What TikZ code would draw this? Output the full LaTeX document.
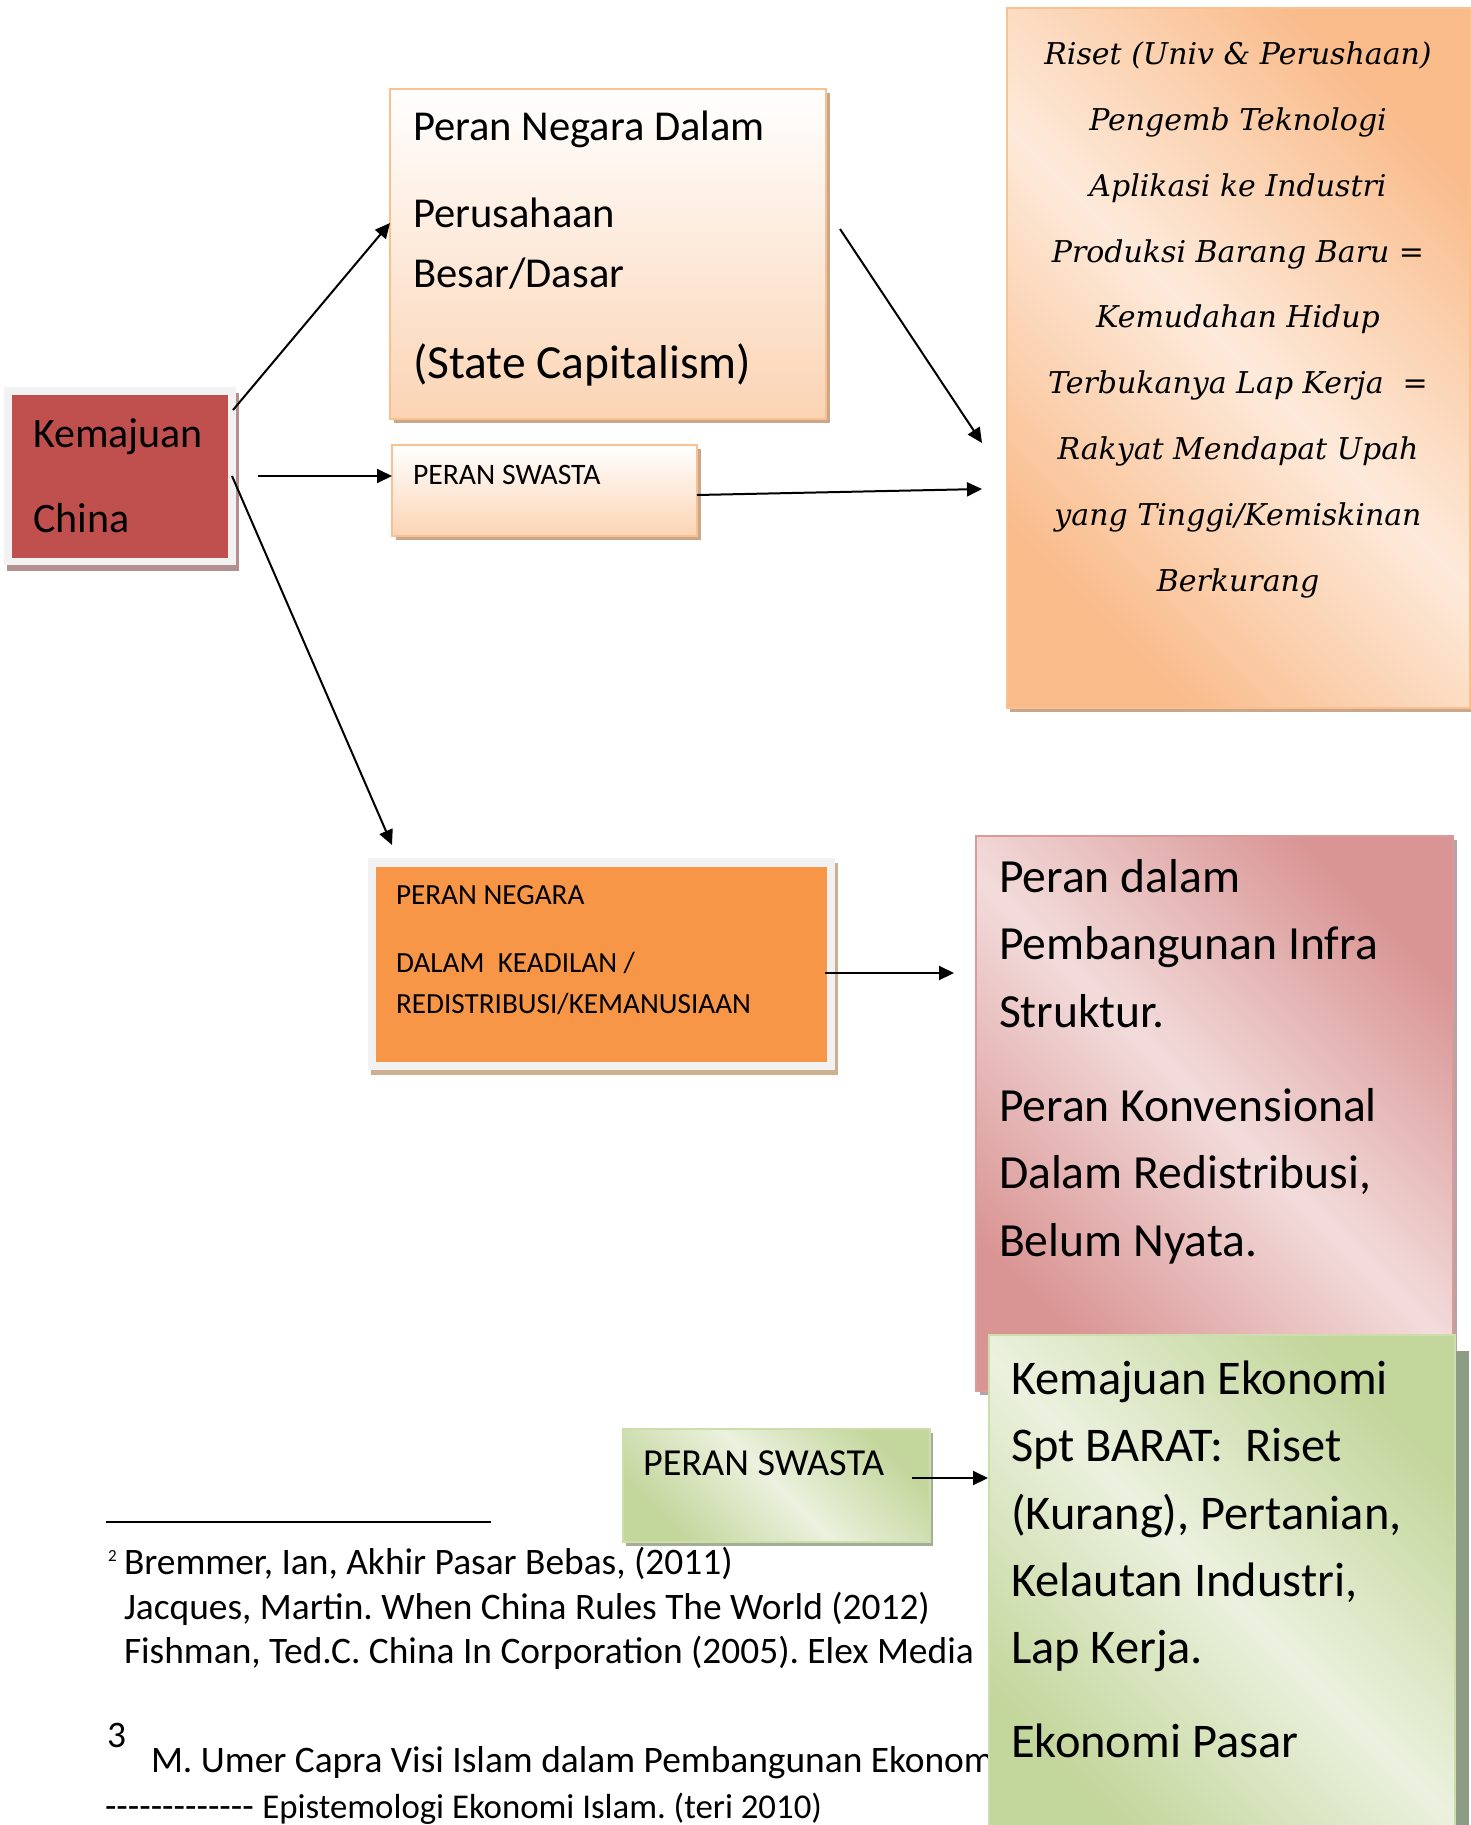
\documentclass[tikz,border=0pt]{standalone}
\usepackage{fontspec}
\setmainfont{Carlito}[Ligatures=TeXOff]
\newfontfamily\serifit{DejaVu Serif}
\usetikzlibrary{arrows.meta,shadows}
\frenchspacing
\definecolor{kemred}{HTML}{C0504D}
\definecolor{framegray}{HTML}{F2F2F2}
\definecolor{peachBorder}{HTML}{FAC090}
\definecolor{peachBottom}{HTML}{FBD4B4}
\definecolor{peachDark}{HTML}{F9BB8A}
\definecolor{peachLight}{HTML}{FDEADA}
\definecolor{orangeFill}{HTML}{F79646}
\definecolor{pinkDark}{HTML}{D99594}
\definecolor{pinkLight}{HTML}{F2DCDB}
\definecolor{pinkBorder}{HTML}{DA9A99}
\definecolor{greenDark}{HTML}{C3D69B}
\definecolor{greenLight}{HTML}{EBF1DE}
\definecolor{greenBorder}{HTML}{CDDDAC}
\definecolor{peachShadow}{HTML}{C9A78A}
\definecolor{kemShadow}{HTML}{B58F8F}
\definecolor{orangeShadow}{HTML}{CDB08F}
\definecolor{greenShadow}{HTML}{A4AE96}
\definecolor{bigGreenShadow}{HTML}{8F9C85}
\definecolor{pinkShadow}{HTML}{B5A5A5}
\begin{document}
\begin{tikzpicture}[x=1pt,y=-1pt,
  box/.style={anchor=north west, inner sep=0pt, outer sep=0pt},
  txt/.style={anchor=base west, inner sep=0pt, outer sep=0pt, text=black},
  ctxt/.style={anchor=base, inner sep=0pt, outer sep=0pt, text=black, font=\serifit\itshape\fontsize{30}{36}\selectfont},
  arr/.style={line width=2pt, -{Triangle[length=15pt,width=14pt]}},
  peachbox/.style={box, draw=peachBorder, line width=2.5pt, top color=white, bottom color=peachBottom,
     drop shadow={shadow xshift=4pt, shadow yshift=-4pt, fill=peachShadow, opacity=1}},
  f42/.style={font=\fontsize{42}{50}\selectfont},
  f42b/.style={font=\fontsize{42.6}{50}\selectfont},
  f47/.style={font=\fontsize{47.6}{56}\selectfont},
  f47b/.style={font=\fontsize{47.5}{56}\selectfont},
  f48/.style={font=\fontsize{48.4}{57}\selectfont},
  f29/.style={font=\fontsize{29.2}{35}\selectfont},
  f29b/.style={font=\fontsize{29.7}{35}\selectfont},
  f37/.style={font=\fontsize{38.2}{45}\selectfont},
  fn/.style={font=\fontsize{37.4}{43}\selectfont},
]
\useasboundingbox (0,0) rectangle (1471,1825);
\fill[white] (0,0) rectangle (1471,1825);

% Kemajuan China
\node[box, fill=framegray, minimum width=232pt, minimum height=178pt,
  drop shadow={shadow xshift=3pt, shadow yshift=-6pt, fill=kemShadow, opacity=1}] (kemframe) at (4,387) {};
\node[box, fill=kemred, minimum width=216pt, minimum height=163pt] (kem) at (12,395) {};
\node[txt, f42] (kem1) at (33,447) {Kemajuan};
\node[txt, f42] (kem2) at (33,532) {China};

% Peran Negara Dalam
\node[peachbox, minimum width=436pt, minimum height=330pt] (pnd) at (390,89) {};
\node[txt, f42b] (pnd1) at (413,140) {Peran Negara Dalam};
\node[txt, f42b] (pnd2) at (413,227) {Perusahaan};
\node[txt, f42b] (pnd3) at (413,287) {Besar/Dasar};
\node[txt, f47b] (pnd4) at (413,378) {(State Capitalism)};

% Peran Swasta (top)
\node[peachbox, minimum width=305pt, minimum height=91pt] (ps1) at (392,445) {};
\node[txt, f29b] (ps1t) at (413,484) {PERAN SWASTA};

% Right top box
\node[box, draw=peachBorder, line width=2.5pt, shading=axis, top color=peachDark, bottom color=peachDark, middle color=peachLight, shading angle=-45,
  drop shadow={shadow xshift=3pt, shadow yshift=-4pt, fill=peachShadow, opacity=1},
  minimum width=463pt, minimum height=700pt] (rtop) at (1007,8) {};
\node[ctxt] (r1) at (1238,64.6) {Riset (Univ \& Perushaan)};
\node[ctxt] (r2) at (1238,130.4) {Pengemb Teknologi};
\node[ctxt] (r3) at (1238,196.2) {Aplikasi ke Industri};
\node[ctxt] (r4) at (1238,262) {Produksi Barang Baru =};
\node[ctxt] (r5) at (1238,327.8) {Kemudahan Hidup};
\node[ctxt] (r6) at (1238,393.6) {Terbukanya Lap Kerja\ \ =};
\node[ctxt] (r7) at (1238,459.4) {Rakyat Mendapat Upah};
\node[ctxt] (r8) at (1238,525.2) {yang Tinggi/Kemiskinan};
\node[ctxt] (r9) at (1238,591) {Berkurang};

% Peran Negara (orange)
\node[box, fill=framegray, minimum width=467pt, minimum height=212pt,
  drop shadow={shadow xshift=3pt, shadow yshift=-5pt, fill=orangeShadow, opacity=1}] (onframe) at (368,858) {};
\node[box, fill=orangeFill, minimum width=451pt, minimum height=195pt] (on) at (376,867) {};
\node[txt, f29] (on1) at (396,904) {PERAN NEGARA};
\node[txt, f29] (on2) at (396,972) {DALAM\ \ KEADILAN /};
\node[txt, f29] (on3) at (396,1013) {REDISTRIBUSI/KEMANUSIAAN};

% Pink box
\node[box, draw=pinkBorder, line width=2pt, shading=axis, top color=pinkDark, bottom color=pinkDark, middle color=pinkLight, shading angle=-45,
  drop shadow={shadow xshift=4pt, shadow yshift=-4pt, fill=pinkShadow, opacity=1},
  minimum width=477pt, minimum height=555pt] (pink) at (976,836) {};
\node[txt, f47] (p1) at (999,892) {Peran dalam};
\node[txt, f47] (p2) at (999,959) {Pembangunan Infra};
\node[txt, f47] (p3) at (999,1027) {Struktur.};
\node[txt, f47] (p4) at (999,1121) {Peran Konvensional};
\node[txt, f47] (p5) at (999,1188) {Dalam Redistribusi,};
\node[txt, f47] (p6) at (999,1256) {Belum Nyata.};

% Peran Swasta (green)
\node[box, draw=greenBorder, line width=2.5pt, shading=axis, top color=greenDark, bottom color=greenDark, middle color=greenLight, shading angle=-45,
  drop shadow={shadow xshift=3pt, shadow yshift=-4pt, fill=greenShadow, opacity=1},
  minimum width=307pt, minimum height=113pt] (ps2) at (623,1429) {};
\node[txt, f37] (ps2t) at (643,1475) {PERAN SWASTA};

% Footnotes
\coordinate (fnl) at (106,1522);
\coordinate (fnr) at (491,1522);
\draw[line width=1.5pt] (fnl) -- (fnr);
\node[txt, font=\fontsize{17}{20}\selectfont] (fn2) at (108,1561) {2};
\node[txt, fn] (fna) at (124,1574) {Bremmer, Ian, Akhir Pasar Bebas, (2011)};
\node[txt, fn] (fnb) at (124,1619) {Jacques, Martin. When China Rules The World (2012)};
\node[txt, fn] (fnc) at (124,1663) {Fishman, Ted.C. China In Corporation (2005). Elex Media};
\node[txt, fn] (fn3) at (107,1747) {3};
\node[txt, fn] (fnd) at (151,1772) {M. Umer Capra Visi Islam dalam Pembangunan Ekonom};
\node[txt, fn] (fne) at (105,1818) {------------- {\fontsize{34.8}{40}\selectfont Epistemologi Ekonomi Islam. (teri 2010)}};

% Green big box
\node[box, draw=greenBorder, line width=2.5pt, shading=axis, top color=greenDark, bottom color=greenDark, middle color=greenLight, shading angle=-45,
  drop shadow={shadow xshift=14pt, shadow yshift=-16pt, fill=bigGreenShadow, opacity=1},
  minimum width=466pt, minimum height=505pt] (green) at (989,1335) {};
\node[txt, f48] (g1) at (1011,1394) {Kemajuan Ekonomi};
\node[txt, f48] (g2) at (1011,1461) {Spt BARAT:\ \ Riset};
\node[txt, f48] (g3) at (1011,1529) {(Kurang), Pertanian,};
\node[txt, f48] (g4) at (1011,1596) {Kelautan Industri,};
\node[txt, f48] (g5) at (1011,1663) {Lap Kerja.};
\node[txt, f48] (g6) at (1011,1757) {Ekonomi Pasar};

% Arrows
\coordinate (a1s) at (233,410);
\coordinate (a1e) at (390,223);
\coordinate (a2s) at (258,476);
\coordinate (a3s) at (232,476);
\coordinate (a3e) at (392,845);
\coordinate (a4s) at (697,495);
\coordinate (a4e) at (982,489);
\coordinate (a5s) at (840,229);
\coordinate (a5e) at (982,443);
\coordinate (a6s) at (825,973);
\coordinate (a6e) at (954,973);
\coordinate (a7s) at (912,1478);
\coordinate (a7e) at (988,1478);
\draw[arr] (a1s) -- (a1e);
\draw[arr] (a2s) -- (ps1.west |- a2s);
\draw[arr] (a3s) -- (a3e);
\draw[arr] (a4s) -- (a4e);
\draw[arr] (a5s) -- (a5e);
\draw[arr] (a6s) -- (a6e);
\draw[arr] (a7s) -- (a7e);
\end{tikzpicture}
\end{document}
